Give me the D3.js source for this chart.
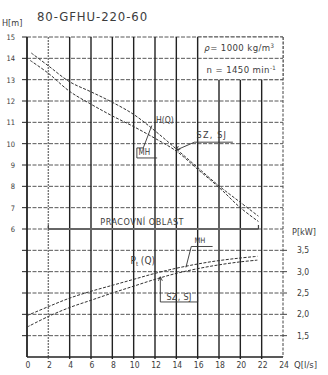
<!DOCTYPE html>
<html>
<head>
<meta charset="utf-8">
<script src="https://cdn.jsdelivr.net/npm/d3@7"></script>
<style>
  body { margin: 0; background: #fff; }
  svg text { font-family: 'Liberation Sans Narrow', 'DejaVu Sans Condensed', 'DejaVu Sans', sans-serif; fill: #3c3c3c; }
</style>
</head>
<body>
<div id="chart"></div>
<script>
// pump curve 80-GFHU-220-60, values read from the scanned sheet
const qTicks = [0, 2, 4, 6, 8, 10, 12, 14, 16, 18, 20, 22, 24];
const hTicks = [6, 7, 8, 9, 10, 11, 12, 13, 14, 15];
const hGrid = [1, 2, 3, 4, 5, 6, 7, 8, 9, 10, 11, 12, 13, 14, 15];
const pTicks = [1.5, 2.0, 2.5, 3.0, 3.5];
const pLabels = ["1,5", "2,0", "2,5", "3,0", "3,5"];

// H(Q) [m]
const hMH = [[0.4, 14.25], [2, 13.65], [4, 12.9], [6, 12.43], [8, 11.94], [10, 11.37], [12, 10.6], [14, 9.75], [16, 8.88], [18, 8.02], [20, 7.25], [21.7, 6.6]];
const hSZ = [[0.3, 13.9], [2, 13.3], [4, 12.45], [6, 11.85], [8, 11.3], [10, 10.8], [12, 10.25], [14, 9.65], [16, 8.8], [18, 7.95], [20, 7.0], [21.7, 6.35]];
// Pt(Q) [kW]
const pMH = [[0, 1.97], [2, 2.18], [4, 2.38], [6, 2.54], [8, 2.68], [10, 2.82], [12, 2.96], [14, 3.08], [16, 3.18], [18, 3.26], [20, 3.32], [21.6, 3.36]];
const pSZ = [[0, 1.70], [2, 1.95], [4, 2.16], [6, 2.33], [8, 2.5], [10, 2.66], [12, 2.82], [14, 2.96], [16, 3.07], [18, 3.16], [20, 3.23], [21.6, 3.27]];
// working range (PRACOVNI OBLAST) on Q, drawn at H = 6
const workRange = [2, 21.7];
const workLevel = 6;

const width = 328, height = 375;

const svg = d3.select("#chart").append("svg")
  .attr("width", width)
  .attr("height", height);

const x = d3.scaleLinear().domain([0, 24]).range([27, 283]);
const yH = d3.scaleLinear().domain([0, 15]).range([357, 37]);
const yP = d3.scaleLinear().domain([1, 8.5]).range([357, 37]); // P = 1 + H/2 on the same grid

const ink = "#222";

// horizontal grid (dashed)
svg.append("g")
  .selectAll("line")
  .data(hGrid)
  .join("line")
    .attr("x1", x(0)).attr("x2", x(24))
    .attr("y1", d => yH(d)).attr("y2", d => yH(d))
    .attr("stroke", "#444")
    .attr("stroke-width", 0.9)
    .attr("stroke-dasharray", "4,1.5");

// vertical grid, hidden behind the parameter box in the top right
svg.append("g")
  .selectAll("line")
  .data(qTicks.filter(d => d >= 4 && d <= 22))
  .join("line")
    .attr("x1", d => x(d)).attr("x2", d => x(d))
    .attr("y1", d => d > 16 ? yH(13) : yH(15))
    .attr("y2", yH(0) + 2)
    .attr("stroke", ink)
    .attr("stroke-width", 1.4);

// the Q = 2 line is faint and broken in the print
svg.append("line")
  .attr("x1", x(2)).attr("x2", x(2))
  .attr("y1", yH(15)).attr("y2", yH(0) + 2)
  .attr("stroke", "#777")
  .attr("stroke-width", 1.4)
  .attr("stroke-dasharray", "2,1");

// right border dashed
svg.append("line")
  .attr("x1", x(24)).attr("x2", x(24))
  .attr("y1", yH(15)).attr("y2", yH(0))
  .attr("stroke", "#444")
  .attr("stroke-width", 1)
  .attr("stroke-dasharray", "3,1.5");

// left axis + ticks
svg.append("line")
  .attr("x1", x(0)).attr("x2", x(0))
  .attr("y1", yH(15)).attr("y2", yH(0))
  .attr("stroke", ink).attr("stroke-width", 1.8);
svg.append("g")
  .selectAll("line")
  .data(hGrid)
  .join("line")
    .attr("x1", x(0) - 5).attr("x2", x(0))
    .attr("y1", d => yH(d)).attr("y2", d => yH(d))
    .attr("stroke", ink).attr("stroke-width", 1);

// bottom axis
svg.append("line")
  .attr("x1", x(0)).attr("x2", x(24))
  .attr("y1", yH(0)).attr("y2", yH(0))
  .attr("stroke", ink).attr("stroke-width", 1.4);

// right ticks for P
svg.append("g")
  .selectAll("line")
  .data(pTicks)
  .join("line")
    .attr("x1", x(24)).attr("x2", x(24) + 4)
    .attr("y1", d => yP(d)).attr("y2", d => yP(d))
    .attr("stroke", "#444").attr("stroke-width", 1);

// parameter box
const box = svg.append("g");
box.append("rect")
  .attr("x", x(16)).attr("y", yH(15))
  .attr("width", x(24) - x(16)).attr("height", yH(13) - yH(15))
  .attr("fill", "#fff");
box.append("line")
  .attr("x1", x(16)).attr("x2", x(16))
  .attr("y1", yH(15)).attr("y2", yH(13))
  .attr("stroke", ink).attr("stroke-width", 1.4);
[15, 14, 13].forEach(h => {
  box.append("line")
    .attr("x1", x(16)).attr("x2", x(24))
    .attr("y1", yH(h)).attr("y2", yH(h))
    .attr("stroke", "#444").attr("stroke-width", 0.9)
    .attr("stroke-dasharray", "4,1.5");
});
box.append("line")
  .attr("x1", x(24)).attr("x2", x(24))
  .attr("y1", yH(15)).attr("y2", yH(13))
  .attr("stroke", "#444").attr("stroke-dasharray", "3,1.5");
box.append("text")
  .attr("x", x(20) - 1).attr("y", yH(14.5) + 3.5)
  .attr("text-anchor", "middle")
  .attr("font-size", 9.5)
  .attr("letter-spacing", 0.4)
  .html('<tspan font-style="italic">ρ</tspan>= 1000 kg/m<tspan dy="-3" font-size="6">3</tspan>');
box.append("text")
  .attr("x", x(20) + 1).attr("y", yH(13.5) + 3.5)
  .attr("text-anchor", "middle")
  .attr("font-size", 9.5)
  .attr("letter-spacing", 0.4)
  .html('n = 1450 min<tspan dy="-3" font-size="6">-1</tspan>');

// working range line
const wy = yH(workLevel);
svg.append("line")
  .attr("x1", x(workRange[0])).attr("x2", x(workRange[1]))
  .attr("y1", wy).attr("y2", wy)
  .attr("stroke", "#666").attr("stroke-width", 2);
svg.append("path")
  .attr("d", `M${x(workRange[0])},${wy - 4}V${wy}M${x(workRange[1])},${wy - 4}V${wy}`)
  .attr("stroke", "#444").attr("fill", "none").attr("stroke-width", 1.2);
svg.append("text")
  .attr("x", x(10.8))
  .attr("y", wy - 4)
  .attr("text-anchor", "middle")
  .attr("font-size", 9)
  .attr("letter-spacing", 0.5)
  .text("PRACOVNÍ OBLAST");

// curves
const line = d3.line()
  .x(d => x(d[0]))
  .curve(d3.curveCatmullRom.alpha(0.5));

[hMH, hSZ].forEach(c => {
  svg.append("path")
    .attr("d", line.y(d => yH(d[1]))(c))
    .attr("fill", "none")
    .attr("stroke", "#333")
    .attr("stroke-width", 1)
    .attr("stroke-dasharray", "3,1.5");
});
[pMH, pSZ].forEach(c => {
  svg.append("path")
    .attr("d", line.y(d => yP(d[1]))(c))
    .attr("fill", "none")
    .attr("stroke", "#333")
    .attr("stroke-width", 1)
    .attr("stroke-dasharray", "3,1.5");
});

// curve annotations
const ann = svg.append("g")
  .attr("stroke", "#333").attr("fill", "none").attr("stroke-width", 0.9);

svg.append("text")
  .attr("x", x(12) + 1).attr("y", yH(11) + 1)
  .attr("font-size", 8.5)
  .text("H(Q)");

// MH box on the H curve
ann.append("path")
  .attr("d", `M${x(11.7)},${yH(10.85)}L${x(10.9)},${yH(9.8)}H${x(10.3)}V${yH(9.33)}H${x(12.2)}`);
svg.append("text")
  .attr("x", x(10.45)).attr("y", yH(9.45))
  .attr("font-size", 8)
  .text("MH");

// SZ, SJ on the H curve
ann.append("path")
  .attr("d", `M${x(14)},${yH(9.7)}L${x(15.7)},${yH(10.07)}H${x(19.3)}`);
ann.append("path")
  .attr("d", `M${x(14) + 4},${yH(9.7) - 1}L${x(14)},${yH(9.7)}L${x(14) + 2},${yH(9.7) - 4}`);
svg.append("text")
  .attr("x", x(15.9)).attr("y", yH(10.25))
  .attr("font-size", 9)
  .attr("letter-spacing", 1.2)
  .text("SZ, SJ");

// Pt(Q)
svg.append("text")
  .attr("x", x(9.7)).attr("y", yP(3.2) + 1)
  .attr("font-size", 10)
  .html('P<tspan dy="2" font-size="6">t</tspan><tspan dy="-2"> (Q)</tspan>');

// MH on the P curve
ann.append("path")
  .attr("d", `M${x(14.9)},${yP(3.1)}L${x(15.4)},${yP(3.59)}H${x(17.4)}`);
svg.append("text")
  .attr("x", x(15.7)).attr("y", yP(3.68))
  .attr("font-size", 7.5)
  .text("MH");

// SZ, SJ box on the P curve
ann.append("path")
  .attr("d", `M${x(12.5)},${yP(2.88)}V${yP(2.29)}H${x(16)}V${yP(2.42)}`);
ann.append("path")
  .attr("d", `M${x(12.5) - 2},${yP(2.88) + 4}L${x(12.5)},${yP(2.88)}L${x(12.5) + 2},${yP(2.88) + 4}`);
svg.append("text")
  .attr("x", x(14.25)).attr("y", yP(2.37) + 1)
  .attr("text-anchor", "middle")
  .attr("font-size", 9)
  .attr("letter-spacing", 0.3)
  .text("SZ, SJ");

// tick labels
svg.append("g")
  .selectAll("text")
  .data(hTicks)
  .join("text")
    .attr("x", 15).attr("y", d => yH(d) + 3)
    .attr("text-anchor", "end")
    .attr("font-size", 7.5)
    .text(d => d);

svg.append("g")
  .selectAll("text")
  .data(pTicks)
  .join("text")
    .attr("x", 297).attr("y", d => yP(d) + 3)
    .attr("font-size", 8.5)
    .text((d, i) => pLabels[i]);

svg.append("g")
  .selectAll("text")
  .data(qTicks)
  .join("text")
    .attr("x", d => x(d) + 1).attr("y", 368)
    .attr("text-anchor", "middle")
    .attr("font-size", 8.5)
    .text(d => d);

// axis titles and heading
svg.append("text").attr("x", 2).attr("y", 26).attr("font-size", 9).text("H[m]");
svg.append("text").attr("x", 292).attr("y", 235).attr("font-size", 9).text("P[kW]");
svg.append("text").attr("x", 294).attr("y", 368).attr("font-size", 9.5).text("Q[l/s]");
svg.append("text")
  .attr("x", 37).attr("y", 21)
  .attr("font-size", 13)
  .attr("letter-spacing", 0.9)
  .text("80-GFHU-220-60");
</script>
</body>
</html>
